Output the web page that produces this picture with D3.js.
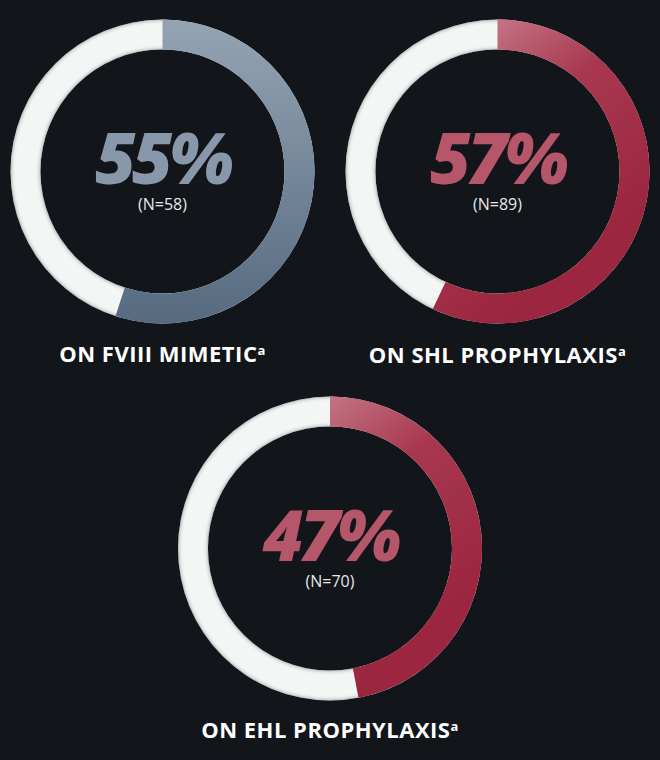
<!DOCTYPE html>
<html>
  <head>
    <meta charset="UTF-8">
    <title>Prophylaxis donuts</title>
    <style>
      * { margin: 0; padding: 0; overflow: hidden; }
      body { background: #121519; }
    </style>
    <script src="https://d3js.org/d3.v7.min.js"></script>
  </head>
  <body>
    <script type="text/javascript">
      // data
      const labels = ["ON FVIII MIMETIC", "ON SHL PROPHYLAXIS", "ON EHL PROPHYLAXIS"];
      const percents = [55, 57, 47];
      const counts = [58, 89, 70];

      // styles / layout
      const THEMES = ["grey", "red", "red"];
      const CENTERS = [[162.5, 171.5], [497.5, 171.5], [330, 548.5]];
      const LABEL_Y = [361.5, 363, 738];
      const OUTER = 152, INNER = 122;
      const WIDTH = 660, HEIGHT = 760;

      const gradStops = {
        grey: [["0%", "#94a4b3"], ["100%", "#566a80"]],
        red: [["0%", "#cc8595"], ["45%", "#a8384f"], ["100%", "#9c2540"]]
      };
      const textColor = { grey: "#8898aa", red: "#b5566b" };

      const svg = d3.select("body")
        .append("svg")
        .attr("width", WIDTH)
        .attr("height", HEIGHT);

      svg.append("rect")
        .attr("width", WIDTH)
        .attr("height", HEIGHT)
        .attr("fill", "#121519");

      const defs = svg.append("defs");

      // inner shadow for the white track
      const f = defs.append("filter").attr("id", "inset")
        .attr("x", "-10%").attr("y", "-10%").attr("width", "120%").attr("height", "120%");
      f.append("feFlood").attr("flood-color", "#4a5c63");
      f.append("feComposite").attr("in2", "SourceAlpha").attr("operator", "out");
      f.append("feGaussianBlur").attr("stdDeviation", 2);
      f.append("feComposite").attr("in2", "SourceAlpha").attr("operator", "in").attr("result", "shadow");
      const m = f.append("feMerge");
      m.append("feMergeNode").attr("in", "SourceGraphic");
      m.append("feMergeNode").attr("in", "shadow");

      const pie = d3.pie().value((d) => d).sort(null);
      const arc = d3.arc().outerRadius(OUTER).innerRadius(INNER);
      const ring = d3.arc().outerRadius(OUTER).innerRadius(INNER).startAngle(0).endAngle(2 * Math.PI);

      percents.forEach((p, i) => {
        const [cx, cy] = CENTERS[i];
        const theme = THEMES[i];

        // gradient in the donut's local coordinates
        const grad = defs.append("linearGradient")
          .attr("id", `grad${i}`)
          .attr("gradientUnits", "userSpaceOnUse");
        if (theme === "grey") {
          grad.attr("x1", 0).attr("y1", -OUTER).attr("x2", 0).attr("y2", OUTER);
        } else {
          grad.attr("x1", -OUTER * 0.3).attr("y1", -OUTER).attr("x2", OUTER * 0.8).attr("y2", OUTER * 0.4);
        }
        gradStops[theme].forEach(([o, c]) => grad.append("stop").attr("offset", o).attr("stop-color", c));

        const g = svg.append("g")
          .attr("transform", `translate(${cx}, ${cy})`);

        g.append("path")
          .attr("d", ring())
          .attr("fill", "#f4f5f5")
          .attr("filter", "url(#inset)");

        const slices = pie([p, 100 - p]);
        g.append("path")
          .attr("d", arc(slices[0]))
          .attr("fill", `url(#grad${i})`);

        g.append("text")
          .attr("y", 12)
          .attr("text-anchor", "middle")
          .attr("font-family", "'Open Sans', sans-serif")
          .attr("font-weight", 800)
          .attr("font-style", "italic")
          .attr("font-size", "70px")
          .attr("letter-spacing", "-4px")
          .attr("fill", textColor[theme])
          .text(`${p}%`);

        g.append("text")
          .attr("y", 38)
          .attr("text-anchor", "middle")
          .attr("font-family", "'Open Sans', sans-serif")
          .attr("font-size", "16px")
          .attr("fill", "#e6e8ea")
          .text(`(N=${counts[i]})`);

        const lab = svg.append("text")
          .attr("x", cx)
          .attr("y", LABEL_Y[i])
          .attr("text-anchor", "middle")
          .attr("font-family", "'Open Sans', sans-serif")
          .attr("font-weight", 700)
          .attr("font-size", "22px")
          .attr("letter-spacing", "0.5px")
          .attr("fill", "#ffffff");
        lab.append("tspan").text(labels[i]);
        lab.append("tspan")
          .attr("font-size", "13px")
          .attr("dy", "-7")
          .text("a");
      });
    </script>
  </body>
</html>
